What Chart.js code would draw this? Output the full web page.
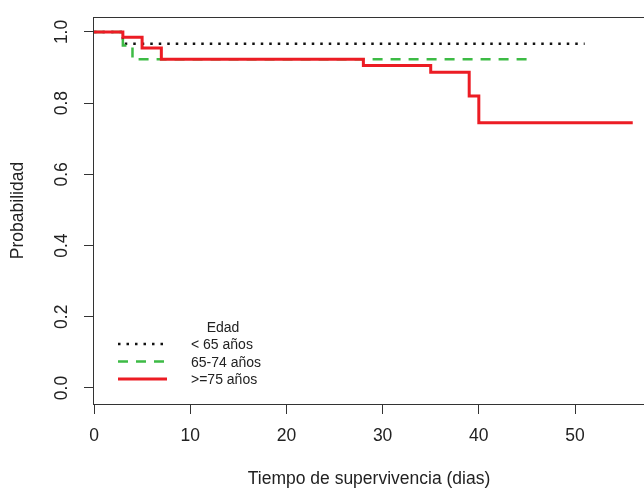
<!DOCTYPE html>
<html>
<head>
<meta charset="utf-8">
<script src="https://cdn.jsdelivr.net/npm/chart.js@4.4.1/dist/chart.umd.min.js"></script>
<style>
  html, body { margin:0; padding:0; background:#fff; }
  #wrap { width:644px; height:488px; }
</style>
</head>
<body>
<div id="wrap"><canvas id="km" width="644" height="488"></canvas></div>
<script>
// curvas de supervivencia (Kaplan-Meier) por grupo de edad
const groupLabels = ['< 65 años', '65-74 años', '>=75 años'];
const legendTitle = 'Edad';

const timesLt65 = [0, 3, 51];
const survLt65  = [1, 0.967, 0.967];

const times6574 = [0, 3, 4, 45];
const surv6574  = [1, 0.962, 0.923, 0.923];

const timesGe75 = [0, 3, 5, 7, 28, 35, 39, 40, 56];
const survGe75  = [1, 0.985, 0.955, 0.923, 0.906, 0.887, 0.820, 0.745, 0.745];

const xTicks = [0, 10, 20, 30, 40, 50];
const yTicks = [0, 0.2, 0.4, 0.6, 0.8, 1.0];

const FONT = '"Liberation Sans", Arial, sans-serif';
const TXT = '#222';
const AXIS = '#333';

const toPts = (ts, ss) => ts.map((t, i) => ({ x: t, y: ss[i] }));

// caja del grafico + leyenda estilo R
const boxAndLegend = {
  id: 'boxAndLegend',
  afterDraw(chart) {
    const { ctx, chartArea: a } = chart;
    ctx.save();
    ctx.strokeStyle = AXIS;
    ctx.lineWidth = 1;
    ctx.setLineDash([]);
    ctx.strokeRect(Math.round(a.left) - 0.5, Math.round(a.top) + 0.5, a.right - a.left + 2, a.bottom - a.top);

    const x0 = a.left + 24, x1 = a.left + 73, tx = a.left + 97;
    ctx.font = '14px ' + FONT;
    ctx.fillStyle = TXT;
    ctx.textAlign = 'center';
    ctx.textBaseline = 'middle';
    ctx.fillText(legendTitle, a.left + 129, a.top + 311);
    ctx.textAlign = 'left';
    chart.data.datasets.forEach((ds, i) => {
      const y = a.top + 327 + i * 17.5;
      ctx.beginPath();
      ctx.setLineDash(ds.borderDash || []);
      ctx.strokeStyle = ds.borderColor;
      ctx.lineWidth = ds.borderWidth;
      ctx.moveTo(x0, y);
      ctx.lineTo(x1, y);
      ctx.stroke();
      ctx.setLineDash([]);
      ctx.fillText(ds.label, tx, y + 1.5);
    });
    ctx.restore();
  }
};

new Chart(document.getElementById('km'), {
  type: 'line',
  data: {
    datasets: [
      { label: groupLabels[0], data: toPts(timesLt65, survLt65), borderColor: '#111', borderWidth: 2.5, borderDash: [2.5, 6], order: 2 },
      { label: groupLabels[1], data: toPts(times6574, surv6574), borderColor: '#3dbb45', borderWidth: 2.5, borderDash: [10, 8], order: 1 },
      { label: groupLabels[2], data: toPts(timesGe75, survGe75), borderColor: '#ec1c24', borderWidth: 3, order: 0 }
    ]
  },
  options: {
    responsive: false,
    animation: false,
    layout: { padding: { top: 17, right: 0, left: 0, bottom: 0 } },
    elements: {
      line: { stepped: true, tension: 0, fill: false, borderCapStyle: 'butt' },
      point: { radius: 0 }
    },
    plugins: { legend: { display: false }, tooltip: { enabled: false } },
    scales: {
      x: {
        type: 'linear',
        min: 0, max: 57.17,
        afterBuildTicks: s => { s.ticks = xTicks.map(v => ({ value: v })); },
        afterFit: s => { s.height = 84; s.paddingLeft = 0; s.paddingRight = 0; },
        border: { display: false },
        grid: { drawOnChartArea: false, drawTicks: true, tickLength: 10, color: AXIS },
        ticks: { color: TXT, font: { family: FONT, size: 17.5 }, padding: 12, maxRotation: 0 },
        title: { display: true, text: 'Tiempo de supervivencia (dias)', color: TXT,
                 font: { family: FONT, size: 17.5, lineHeight: 1 }, padding: { top: 0, bottom: 0 } }
      },
      y: {
        type: 'linear',
        min: -0.045, max: 1.042,
        afterBuildTicks: s => { s.ticks = yTicks.map(v => ({ value: v })); },
        afterFit: s => { s.width = 94; s.paddingTop = 0; s.paddingBottom = 0; },
        border: { display: false },
        grid: { drawOnChartArea: false, drawTicks: true, tickLength: 10, color: AXIS },
        ticks: { color: TXT, font: { family: FONT, size: 17.5 }, padding: 10,
                 minRotation: 90, maxRotation: 90, crossAlign: 'center',
                 callback: v => v.toFixed(1) },
        title: { display: true, text: 'Probabilidad', color: TXT,
                 font: { family: FONT, size: 17.5, lineHeight: 1 }, padding: { top: 9, bottom: 0 } }
      }
    }
  },
  plugins: [boxAndLegend]
});
</script>
</body>
</html>
